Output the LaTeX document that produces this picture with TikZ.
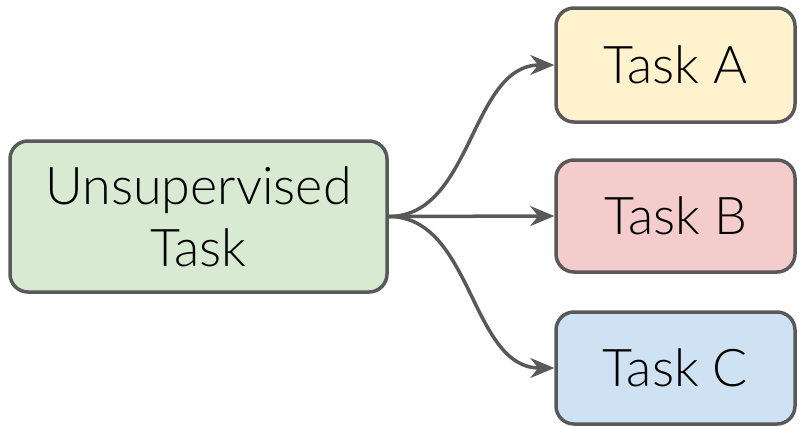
\documentclass[tikz,border=0pt]{standalone}
\usepackage{fontspec}
\setmainfont{Lato Light}
\usetikzlibrary{arrows.meta}
\definecolor{edgegray}{HTML}{595959}
\definecolor{ugreen}{HTML}{D9EAD3}
\definecolor{ayellow}{HTML}{FFF2CC}
\definecolor{bred}{HTML}{F4CCCC}
\definecolor{cblue}{HTML}{CFE2F3}
\tikzset{
  box/.style={draw=edgegray, line width=3.5pt, rounded corners=18pt, align=center,
    font=\fontsize{52}{62}\selectfont, inner sep=0pt},
  arr/.style={draw=edgegray, line width=3.5pt,
    -{Stealth[length=24pt, width=20pt, inset=8pt]}}
}
\begin{document}
\begin{tikzpicture}[x=1pt, y=-1pt]
      \useasboundingbox (0,0) rectangle (799,426);
      \draw
        (198.5,216.5) node[box, fill=ugreen, minimum width=377pt, minimum height=151pt] (u){Unsupervised\\Task}
        (675.5,65) node[box, fill=ayellow, minimum width=239pt, minimum height=114pt] (a){Task A}
        (675.5,216) node[box, fill=bred, minimum width=239pt, minimum height=112pt] (b){Task B}
        (675.5,368) node[box, fill=cblue, minimum width=239pt, minimum height=112pt] (c){Task C};
      \begin{scope}[arr]
        \draw (u.east) .. controls +(84,0) and +(-84,0) .. (a.west);
        \draw (u.east) -- (b.west);
        \draw (u.east) .. controls +(84,0) and +(-84,0) .. (c.west);
      \end{scope}
    \end{tikzpicture}
\end{document}
